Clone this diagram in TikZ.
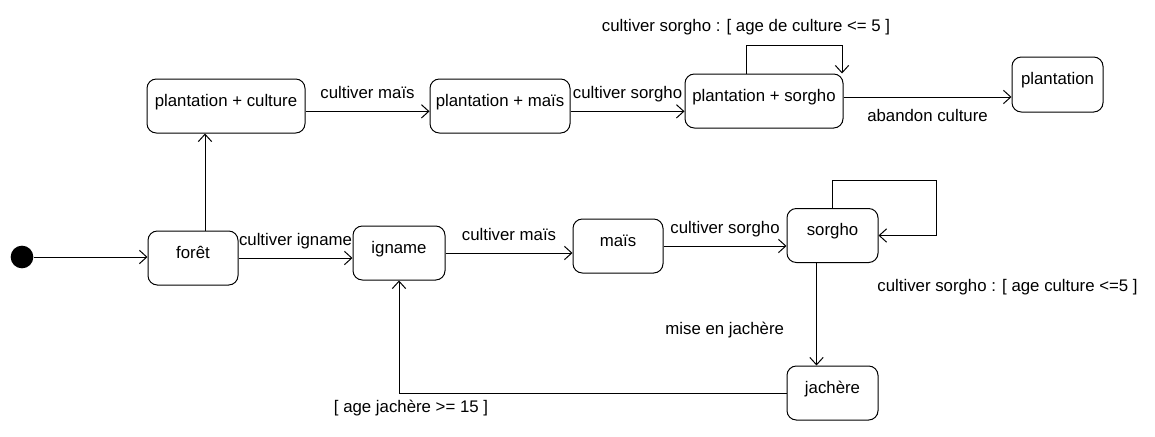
\documentclass[tikz,border=0pt]{standalone}
\usepackage{fontspec}
\setmainfont{Liberation Sans}
\usetikzlibrary{arrows.meta}
\tikzset{%
  state/.style = {shape=rectangle, rounded corners=7pt,%
                  draw, line width=0.75pt, inner sep=0pt,%
                  text height=8pt, text depth=8pt,%
                  minimum height=40.5pt},%
  start/.style = {circle, fill=black, inner sep=0pt, minimum size=17pt},%
  trans/.style = {line width=0.75pt, -{Straight Barb[length=5.5pt,width=10pt]}},%
  guard/.style = {inner sep=1pt, text depth=0pt}%
}
\begin{document}
\begin{tikzpicture}[x=0.75pt,y=-0.75pt,every node/.style={font=\fontsize{12.6}{15}\selectfont}]
	\useasboundingbox (0,0) rectangle (1155,436);
	\node [start] (init) at (22,257) {};
	\node [state, minimum width=67.5pt] (foret) at (193,258) {forêt};
	\node [state, minimum width=69pt] (igname) at (399,253) {igname};
	\node [state, minimum width=67.5pt] (mais) at (618,246) {maïs};
	\node [state, minimum width=68.25pt] (sorgho) at (832.5,235.5) {sorgho};
	\node [state, minimum width=68.25pt] (jachere) at (832.5,393) {jachère};
	\node [state, minimum width=118.5pt] (pculture) at (226,106) {plantation + culture};
	\node [state, minimum width=105pt] (pmais) at (500,106) {plantation + maïs};
	\node [state, minimum width=118.5pt] (psorgho) at (764,101) {plantation + sorgho};
	\node [state, minimum width=68.25pt, minimum height=41.25pt] (plantation) at (1057.5,84.5) {plantation};

	\draw [trans] (init.east) -- (init.east -| foret.west);
	\draw [trans] (foret.east) -- (foret.east -| igname.west)
		node [guard, midway, above=8pt] {cultiver igname};
	\draw [trans] (igname.east) -- (igname.east -| mais.west)
		node [guard, midway, above=8pt] {cultiver maïs};
	\draw [trans] (mais.east) -- (mais.east -| sorgho.west)
		node [guard, midway, above=8pt] {cultiver sorgho};
	\draw [trans] (sorgho.north) -- ++(0,-28) -- ++(104,0) |- (sorgho.east);
	\node [guard, anchor=base west] (lsorgho) at ([xshift=-2pt,yshift=-21pt]sorgho.south east) {cultiver sorgho : [ age culture <=5 ]};
	\draw [trans] ([xshift=-12pt]sorgho.south) -- ([xshift=-12pt]sorgho.south |- jachere.north)
		node [guard, pos=0.7, anchor=base east, xshift=-23pt] {mise en jachère};
	\draw [trans] (jachere.west) -| (igname.south)
		node [guard, pos=0.5, below=4pt, xshift=9pt] {[ age jachère >= 15 ]};
	\draw [trans] ([xshift=9pt]foret.north) -- ([xshift=9pt]foret.north |- pculture.south);
	\draw [trans] ([yshift=-4pt]pculture.east) -- ([yshift=-4pt]pculture.east -| pmais.west)
		node [guard, midway, above=8pt] {cultiver maïs};
	\draw [trans] ([yshift=-4pt]pmais.east) -- ([yshift=-4pt]pmais.east -| psorgho.west)
		node [guard, midway, above=8pt] {cultiver sorgho};
	\draw [trans] ([xshift=-13.5pt]psorgho.north) -- ++(0,-28)
		node [guard, above=9.5pt] {cultiver sorgho : [ age de culture <= 5 ]}
		-| ([xshift=58.5pt]psorgho.north);
	\draw [trans] ([yshift=3pt]psorgho.east) -- ([yshift=3pt]psorgho.east -| plantation.west)
		node [guard, midway, below=8pt] {abandon culture};
\end{tikzpicture}
\end{document}
